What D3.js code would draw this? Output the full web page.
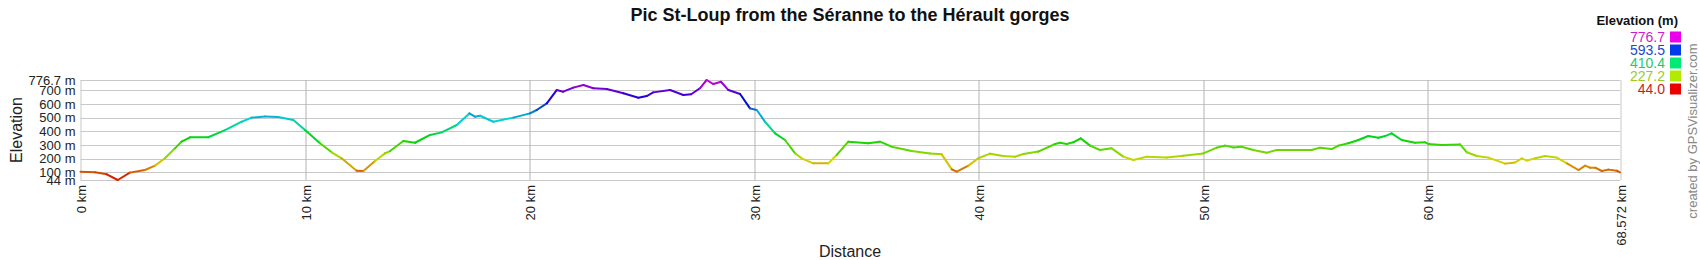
<!DOCTYPE html>
<html>
<head>
<meta charset="utf-8">
<script src="https://cdn.jsdelivr.net/npm/d3@7"></script>
<style>
  body { margin: 0; background: #fff; }
  text { font-family: "Liberation Sans", Arial, sans-serif; }
</style>
</head>
<body>
<div id="profile"></div>
<script>
// track profile
const distanceKm = [0, 0.65, 1.17, 1.66, 2.2, 2.87, 3.32, 3.76, 4.21, 4.5, 4.88, 5.69, 6.44, 7.18, 7.62, 8.22, 8.81, 9.48,
  10.0, 10.67, 11.19, 11.63, 12.3, 12.6, 13.12, 13.56, 13.79, 14.38, 14.9, 15.57, 16.09, 16.76, 17.32, 17.57, 17.8, 18.39, 19.28,
  20.02, 20.32, 20.77, 21.21, 21.5, 21.95, 22.4, 22.84, 23.44, 24.18, 24.85, 25.22, 25.51, 26.26, 26.85, 27.2, 27.59, 27.89, 28.19,
  28.53, 28.86, 29.38, 29.82, 30.12, 30.49, 30.94, 31.38, 31.83, 32.12, 32.64, 33.31, 33.68, 34.2, 35.09, 35.61, 36.13, 37.02,
  37.84, 38.36, 38.81, 39.03, 39.55, 39.99, 40.51, 41.1, 41.63, 42.0, 42.66, 43.41, 43.63, 43.93, 44.22, 44.55, 44.97, 45.41,
  45.93, 46.45, 46.9, 47.49, 48.38, 49.12, 50.01, 50.61, 50.98, 51.35, 51.72, 52.24, 52.84, 53.28, 54.02, 54.84, 55.21, 55.73,
  56.03, 56.47, 56.92, 57.36, 57.81, 58.11, 58.4, 58.85, 59.44, 59.89, 60.04, 60.63, 61.45, 61.75, 62.19, 62.71, 63.46, 63.9,
  64.2, 64.42, 64.8, 65.24, 65.76, 66.21, 66.73, 67.02, 67.25, 67.47, 67.76, 68.05, 68.43, 68.572];
const elevationM = [105, 100, 86, 44, 98, 117, 149, 203, 276, 325, 357, 357, 410, 471, 501, 510, 506, 484,
  410, 313, 247, 203, 112, 110, 183, 239, 256, 330, 317, 374, 393, 447, 532, 508, 515, 471, 501,
  532, 557, 606, 703, 691, 721, 740, 716, 711, 679, 647, 659, 686, 703, 667, 672, 716, 776.7, 747,
  764, 703, 674, 569, 557, 471, 386, 337, 239, 203, 166, 166, 227, 325, 313, 325, 288, 256,
  239, 232, 122, 105, 149, 203, 237, 220, 215, 235, 252, 308, 317, 308, 320, 349, 296, 264,
  276, 215, 191, 215, 208, 222, 239, 281, 296, 283, 288, 264, 244, 264, 264, 264, 281, 271,
  296, 313, 337, 366, 354, 366, 386, 337, 317, 320, 308, 300, 305, 247, 220, 208, 164, 173,
  203, 186, 203, 220, 208, 166, 117, 149, 134, 134, 110, 120, 112, 100];

const yTicks = [44, 100, 200, 300, 400, 500, 600, 700, 776.7];
const yTickLabels = ["44 m", "100 m", "200 m", "300 m", "400 m", "500 m", "600 m", "700 m", "776.7 m"];
const xTicks = [0, 10, 20, 30, 40, 50, 60, 68.572];
const xTickLabels = ["0 km", "10 km", "20 km", "30 km", "40 km", "50 km", "60 km", "68.572 km"];
const legendValues = [776.7, 593.5, 410.4, 227.2, 44.0];

const data = distanceKm.map((d, i) => ({ dist: d, ele: elevationM[i] }));

const W = 1700, H = 260;
const margin = { top: 80, right: 80, bottom: 80, left: 80.5 },
  width = W - margin.left - margin.right,
  height = H - margin.top - margin.bottom;

const svg = d3.select("#profile")
  .append("svg")
    .attr("width", W)
    .attr("height", H);

const g = svg.append("g")
  .attr("transform", `translate(${margin.left},${margin.top})`);

const x = d3.scaleLinear().domain([0, 68.572]).range([0, width]);
const y = d3.scaleLinear().domain([44, 776.7]).range([height, 0]);

// elevation -> hue, red at the bottom to magenta at the top
const hue = d3.scaleLinear().domain([44, 776.7]).range([0, 300]);
const lineColor = e => d3.hsl(hue(e), 1, 0.42).formatHex();
const boxColor = e => d3.hsl(hue(e), 1, 0.46).formatHex();
const textColor = e => d3.hsl(hue(e), 0.75, 0.45).formatHex();

// horizontal grid
g.append("g")
  .selectAll("line")
  .data(yTicks)
  .join("line")
    .attr("x1", 0)
    .attr("x2", width)
    .attr("y1", d => Math.round(y(d)) + 0.5)
    .attr("y2", d => Math.round(y(d)) + 0.5)
    .attr("stroke", "#c8c8c8");

// vertical grid at the km ticks
g.append("g")
  .selectAll("line")
  .data(xTicks)
  .join("line")
    .attr("x1", d => Math.round(x(d)) + 0.5)
    .attr("x2", d => Math.round(x(d)) + 0.5)
    .attr("y1", 0)
    .attr("y2", height)
    .attr("stroke", d => (d === 0 || d === 68.572) ? "#c8c8c8" : "#b4b4b4");

// y axis
const axisY = g.append("g")
  .call(d3.axisLeft(y).tickValues(yTicks).tickSize(0).tickPadding(5)
    .tickFormat((d, i) => yTickLabels[i]));
axisY.select(".domain").remove();
axisY.selectAll("text")
  .attr("font-size", 13)
  .attr("fill", "#222")
  .style("font-family", '"Liberation Sans", Arial, sans-serif');

// x axis, labels turned on their side
const axisX = g.append("g")
  .attr("transform", `translate(0,${height})`)
  .call(d3.axisBottom(x).tickValues(xTicks).tickSize(0)
    .tickFormat((d, i) => xTickLabels[i]));
axisX.select(".domain").remove();
axisX.selectAll("text")
  .attr("font-size", 13)
  .attr("fill", "#222")
  .attr("text-anchor", "end")
  .attr("dy", null)
  .attr("y", 0)
  .attr("transform", "translate(5,5) rotate(-90)")
  .style("font-family", '"Liberation Sans", Arial, sans-serif');

// the profile, one coloured piece per step
const pairs = d3.pairs(data);
g.append("g")
  .selectAll("line")
  .data(pairs)
  .join("line")
    .attr("x1", d => x(d[0].dist))
    .attr("y1", d => y(d[0].ele))
    .attr("x2", d => x(d[1].dist))
    .attr("y2", d => y(d[1].ele))
    .attr("stroke", d => lineColor((d[0].ele + d[1].ele) / 2))
    .attr("stroke-width", 2)
    .attr("stroke-linecap", "round");

// titles
svg.append("text")
  .attr("x", 850)
  .attr("y", 21)
  .attr("text-anchor", "middle")
  .attr("font-size", 18)
  .attr("font-weight", "bold")
  .attr("fill", "#111")
  .text("Pic St-Loup from the Séranne to the Hérault gorges");

svg.append("text")
  .attr("transform", `translate(22,130) rotate(-90)`)
  .attr("text-anchor", "middle")
  .attr("font-size", 16)
  .attr("fill", "#222")
  .text("Elevation");

svg.append("text")
  .attr("x", 850)
  .attr("y", 257)
  .attr("text-anchor", "middle")
  .attr("font-size", 16)
  .attr("fill", "#222")
  .text("Distance");

svg.append("text")
  .attr("transform", `translate(1697,131) rotate(-90)`)
  .attr("text-anchor", "middle")
  .attr("font-size", 13)
  .attr("fill", "#888")
  .text("created by GPSVisualizer.com");

// colour legend
const legend = svg.append("g");
legend.append("text")
  .attr("x", 1678)
  .attr("y", 25)
  .attr("text-anchor", "end")
  .attr("font-size", 13)
  .attr("font-weight", "bold")
  .attr("fill", "#111")
  .text("Elevation (m)");

const rows = legend.selectAll("g.row")
  .data(legendValues)
  .join("g")
    .attr("class", "row")
    .attr("transform", (d, i) => `translate(0,${37 + i * 13})`);
rows.append("text")
  .attr("x", 1665)
  .attr("y", 0)
  .attr("dy", "0.36em")
  .attr("text-anchor", "end")
  .attr("font-size", 14)
  .attr("fill", d => textColor(d))
  .text(d => d.toFixed(1));
rows.append("rect")
  .attr("x", 1670)
  .attr("y", -5.5)
  .attr("width", 11)
  .attr("height", 11)
  .attr("fill", d => boxColor(d));
</script>
</body>
</html>
